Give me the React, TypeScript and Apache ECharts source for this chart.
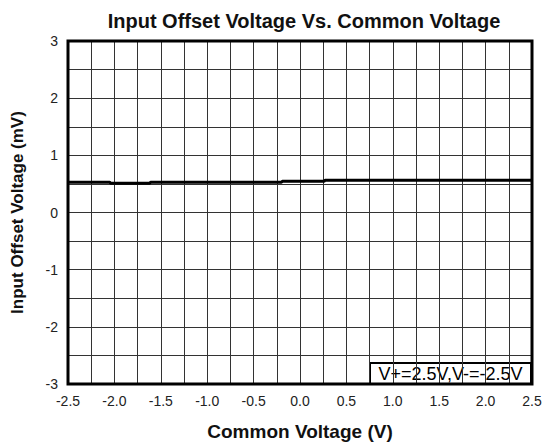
import React, { useEffect, useRef } from "react";
import * as echarts from "echarts";

const commonVoltage = [-2.5, -2.3, -2.05, -2.04, -1.8, -1.62, -1.61, -1.0, -0.5, -0.2, -0.19, 0.0, 0.26, 0.27, 1.0, 1.5, 2.0, 2.5];
const offsetVoltage = [0.53, 0.53, 0.53, 0.51, 0.51, 0.51, 0.53, 0.53, 0.53, 0.53, 0.545, 0.545, 0.545, 0.565, 0.565, 0.565, 0.565, 0.565];

const titleText = "Input Offset Voltage Vs. Common Voltage";
const xName = "Common Voltage (V)";
const yName = "Input Offset Voltage (mV)";
const conditionText = "V+=2.5V,V-=-2.5V";

const FONT = "'Liberation Sans', Arial, sans-serif";

export default function App() {
  const ref = useRef<HTMLDivElement>(null);
  useEffect(() => {
    if (!ref.current) return;
    const chart = echarts.init(ref.current, undefined, { renderer: "svg" });
    const data = commonVoltage.map((x, i) => [x, offsetVoltage[i]]);
    chart.setOption({
      animation: false,
      backgroundColor: "#ffffff",
      grid: {
        left: 68,
        right: 13,
        top: 41,
        bottom: 61,
        show: true,
        borderColor: "#000",
        borderWidth: 3,
        backgroundColor: "transparent",
        z: 5,
      },
      title: {
        text: titleText,
        left: 299,
        top: 6,
        textAlign: "center",
        textStyle: { fontFamily: FONT, fontSize: 20, fontWeight: "bold", color: "#111" },
      },
      xAxis: {
        type: "value",
        min: -2.5,
        max: 2.5,
        interval: 0.5,
        name: xName,
        nameLocation: "middle",
        nameGap: 38,
        nameTextStyle: { fontFamily: FONT, fontSize: 19, fontWeight: "bold", color: "#111" },
        axisLine: { show: false },
        axisTick: { show: false },
        axisLabel: {
          margin: 10,
          fontFamily: FONT,
          fontSize: 14,
          color: "#222",
          formatter: (v: number) => v.toFixed(1),
        },
        splitLine: { show: true, lineStyle: { color: "#333", width: 1 } },
        minorTick: { show: false, splitNumber: 2 },
        minorSplitLine: { show: true, lineStyle: { color: "#333", width: 1 } },
      },
      yAxis: {
        type: "value",
        min: -3,
        max: 3,
        interval: 1,
        name: yName,
        nameLocation: "middle",
        nameGap: 42,
        nameTextStyle: { fontFamily: FONT, fontSize: 17, fontWeight: "bold", color: "#111" },
        axisLine: { show: false },
        axisTick: { show: false },
        axisLabel: {
          margin: 10,
          fontFamily: FONT,
          fontSize: 14,
          color: "#222",
        },
        splitLine: { show: true, lineStyle: { color: "#333", width: 1 } },
        minorTick: { show: false, splitNumber: 2 },
        minorSplitLine: { show: true, lineStyle: { color: "#333", width: 1 } },
      },
      series: [
        {
          type: "line",
          data,
          showSymbol: false,
          lineStyle: { color: "#000", width: 3 },
          z: 3,
        },
      ],
      graphic: [
        {
          type: "group",
          right: 13,
          bottom: 61,
          z: 10,
          children: [
            {
              type: "rect",
              shape: { x: 0, y: 0, width: 161, height: 21 },
              style: { fill: "#fff", stroke: "#000", lineWidth: 2 },
            },
            {
              type: "text",
              x: 80.5,
              y: 11,
              style: {
                text: conditionText,
                fontFamily: FONT,
                fontSize: 18,
                fill: "#000",
                textAlign: "center",
                textVerticalAlign: "middle",
              },
            },
          ],
        },
      ],
    });
    return () => chart.dispose();
  }, []);
  return <div ref={ref} style={{ width: 545, height: 446, position: "absolute", left: 0, top: 0 }} />;
}
